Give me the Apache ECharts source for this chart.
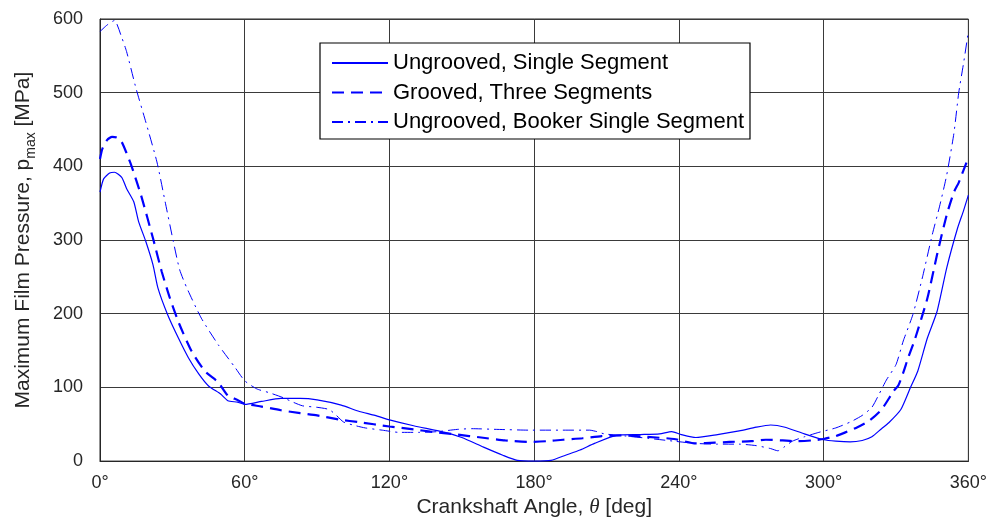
<!DOCTYPE html>
<html>
<head>
<meta charset="utf-8">
<script src="https://cdn.jsdelivr.net/npm/echarts@6/dist/echarts.min.js"></script>
<style>
  html, body { margin: 0; padding: 0; background: #ffffff; }
  #chart { width: 990px; height: 523px; }
</style>
</head>
<body>
<div id="chart"></div>
<script>
// Maximum film pressure over one crank revolution for three bearing models

const xTicks = [0, 60, 120, 180, 240, 300, 360];
const yTicks = [0, 100, 200, 300, 400, 500, 600];

const seriesNames = [
  'Ungrooved, Single Segment',
  'Grooved, Three Segments',
  'Ungrooved, Booker Single Segment'
];

// Ungrooved, single segment
const ungroovedAngle = [0, 1.5, 4, 6, 9, 11, 14, 16, 19, 22, 24, 28, 32.5, 36.7, 41, 45, 50, 53, 57, 60,
  67, 75, 83, 90, 100, 107, 114, 120, 130, 143, 150, 159, 167, 173, 180, 187, 193, 199, 205, 214,
  224, 232, 237, 241, 247, 256, 265, 272, 278, 284, 292, 300, 305, 311, 316, 320, 324, 327, 332, 336,
  339, 343, 347, 351, 355.5, 358, 360];
const ungroovedP = [365, 383, 391, 392, 385, 370, 352, 325, 298, 266, 235, 199, 167, 140, 118, 102, 91, 82, 80, 77,
  81, 85, 85, 83, 76, 68, 62, 56, 48, 39, 32, 19, 8, 1, 0, 1, 8, 15, 24, 35,
  36, 37, 40, 36, 32, 36, 41, 46, 49, 46, 37, 29, 27, 26, 28, 33, 44, 52, 70, 100,
  122, 167, 203, 262, 316, 340, 361];

// Grooved, three segments
const groovedAngle = [0, 1, 3, 5, 7, 9, 11, 13, 17, 22, 25.6, 29, 33, 38, 43.5, 49, 53, 57, 60,
  67, 75, 83, 90, 100, 107, 120, 130, 137, 148, 158, 168, 178, 185, 192, 200, 208, 216, 226, 238,
  247, 255, 261, 270, 276, 283, 289, 295, 300, 305, 309, 314, 319, 324, 329, 331, 333, 335, 337.6,
  343, 347, 351, 354, 356, 358, 360];
const groovedP = [410, 424, 436, 440, 439, 433, 418, 401, 361, 302, 257, 221, 185, 149, 122, 107, 89, 83, 78,
  74, 69, 65, 62, 56, 53, 47, 43, 40, 36, 32, 28, 26, 27, 29, 31, 34, 35, 33, 30,
  24, 25, 26, 27, 29, 28, 27, 28, 30, 34, 39, 46, 55, 70, 95, 103, 120, 140, 163,
  221, 280, 334, 365, 378, 395, 412];

// Ungrooved, Booker single segment
const bookerAngle = [0, 3, 6, 9, 11, 15, 19, 23.6, 27, 30.4, 33, 36, 42, 49, 56, 60, 65, 70, 76, 80,
  84, 90, 95, 98, 101, 106, 110, 117, 124, 132, 140, 148, 154, 165, 178, 190, 203, 206, 209, 218,
  227, 238, 247, 256, 265, 272, 278, 281, 284, 287, 292, 298, 305, 311, 316, 320, 323, 326, 330, 333,
  337, 341, 345, 348, 351, 354, 356, 358, 360];
const bookerP = [583, 592, 598, 575, 556, 505, 460, 406, 352, 298, 260, 235, 194, 158, 127, 109, 98, 93, 86, 80,
  75, 73, 70, 62, 53, 48, 45, 42, 39, 39, 40, 43, 44, 43, 42, 42, 42, 40, 37, 34,
  31, 27, 24, 23, 23, 21, 17, 14, 20, 27, 33, 39, 45, 53, 62, 73, 91, 110, 131, 163,
  199, 250, 307, 345, 388, 445, 500, 540, 583];

const pair = (xs, ys) => xs.map((x, i) => [x, ys[i]]);

const textColor = '#262626';
const lineBlue = '#0000ff';
const font = '"Liberation Sans", Arial, sans-serif';

const chart = echarts.init(document.getElementById('chart'), null, { renderer: 'canvas' });

chart.setOption({
  animation: false,
  backgroundColor: '#ffffff',
  grid: {
    left: 98, right: 21, top: 19, bottom: 59,
    show: true, borderColor: '#262626', borderWidth: 1, backgroundColor: '#ffffff'
  },
  legend: {
    data: seriesNames,
    orient: 'vertical',
    left: 320, top: 43,
    padding: [9, 6, 6, 11],
    itemWidth: 56, itemHeight: 14, itemGap: 7.5,
    backgroundColor: '#ffffff',
    borderColor: '#000000', borderWidth: 1.2,
    // legend keys show only the line pattern
    itemStyle: { opacity: 0 },
    textStyle: { fontFamily: font, fontSize: 22, color: '#000000', lineHeight: 22 }
  },
  xAxis: {
    type: 'value',
    min: xTicks[0], max: xTicks[xTicks.length - 1], interval: 60,
    name: 'Crankshaft Angle, {th|θ} [deg]',
    nameLocation: 'middle', nameGap: 33,
    nameTextStyle: {
      fontFamily: font, fontSize: 21, color: textColor,
      rich: { th: { fontFamily: '"Liberation Serif", "DejaVu Serif", serif', fontStyle: 'italic', fontSize: 21, color: textColor } }
    },
    axisLine: { show: true, lineStyle: { color: '#262626', width: 1 } },
    axisTick: { show: false },
    axisLabel: { formatter: '{value}°', fontFamily: font, fontSize: 18, color: textColor, margin: 13 },
    splitLine: { show: true, lineStyle: { color: '#3a3a3a', width: 1 } }
  },
  yAxis: {
    type: 'value',
    min: yTicks[0], max: yTicks[yTicks.length - 1], interval: 100,
    name: 'Maximum Film Pressure, p{sub|max} [MPa]',
    nameLocation: 'middle', nameGap: 62, nameRotate: 90,
    nameTextStyle: {
      fontFamily: font, fontSize: 21, color: textColor, lineHeight: 30,
      rich: { sub: { fontFamily: font, fontSize: 14, color: textColor, verticalAlign: 'bottom', lineHeight: 30 } }
    },
    axisLine: { show: true, lineStyle: { color: '#262626', width: 1 } },
    axisTick: { show: false },
    axisLabel: { fontFamily: font, fontSize: 18, color: textColor, margin: 17 },
    splitLine: { show: true, lineStyle: { color: '#3a3a3a', width: 1 } }
  },
  series: [
    {
      name: seriesNames[0], type: 'line', data: pair(ungroovedAngle, ungroovedP),
      symbol: 'none', smooth: 0.2, color: lineBlue,
      lineStyle: { color: lineBlue, width: 1.2, type: 'solid' }
    },
    {
      name: seriesNames[1], type: 'line', data: pair(groovedAngle, groovedP),
      symbol: 'none', smooth: 0.2, color: lineBlue,
      lineStyle: { color: lineBlue, width: 2.2, type: [12, 7] }
    },
    {
      name: seriesNames[2], type: 'line', data: pair(bookerAngle, bookerP),
      symbol: 'none', smooth: 0.2, color: lineBlue,
      lineStyle: { color: lineBlue, width: 1, type: [11, 5, 2, 5] }
    }
  ]
});
</script>
</body>
</html>
